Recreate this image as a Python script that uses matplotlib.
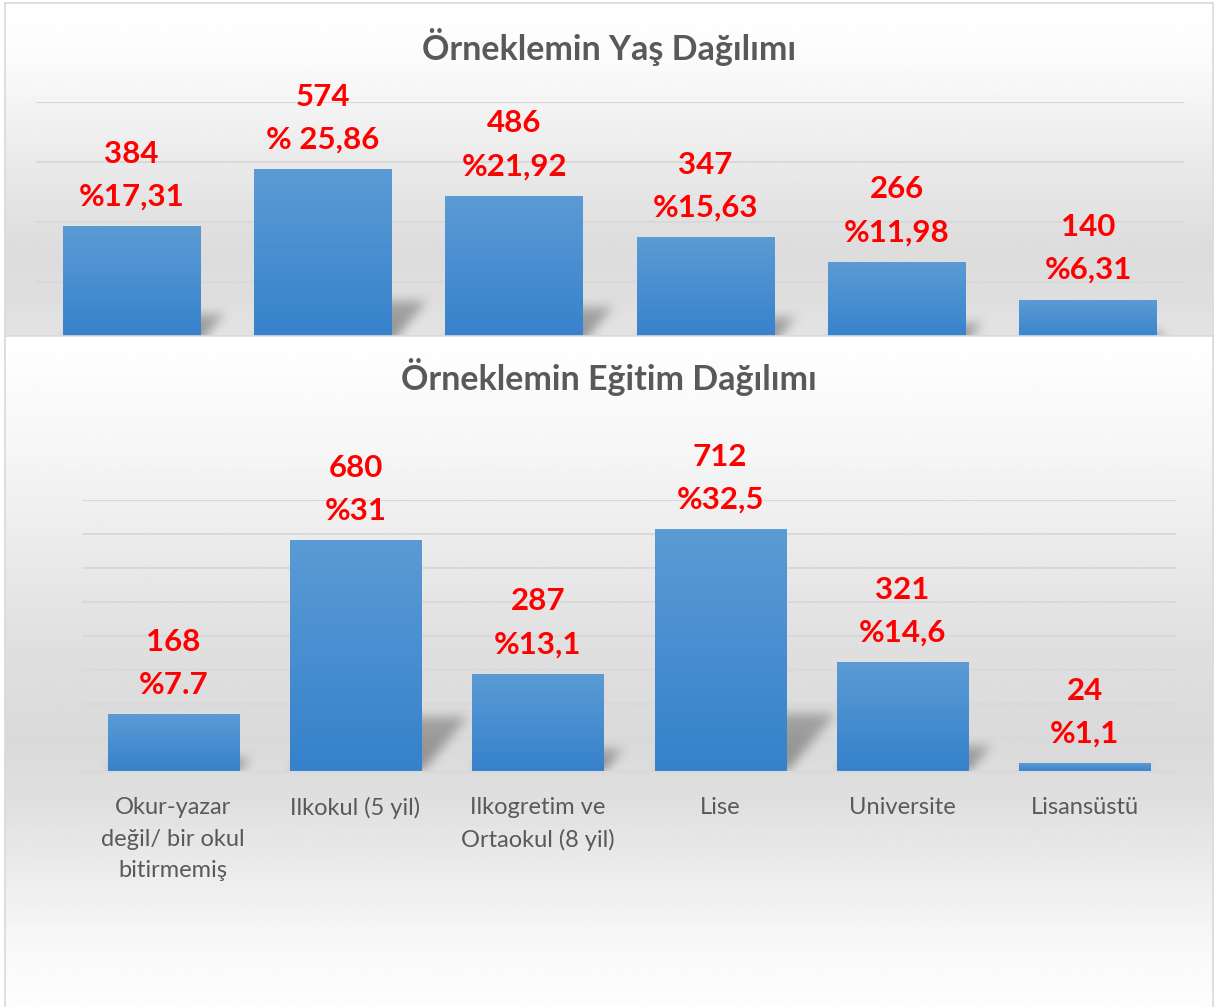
import numpy as np
import matplotlib
matplotlib.use("Agg")
import matplotlib.pyplot as plt

# data
age_counts = [384, 574, 486, 347, 266, 140]
age_pct = ['%17,31', '% 25,86', '%21,92', '%15,63', '%11,98', '%6,31']

edu_labels = ['Okur-yazar\ndeğil/ bir okul\nbitirmemiş', 'Ilkokul (5 yil)',
              'Ilkogretim ve\nOrtaokul (8 yil)', 'Lise', 'Universite', 'Lisansüstü']
edu_counts = [168, 680, 287, 712, 321, 24]
edu_pct = ['%7.7', '%31', '%13,1', '%32,5', '%14,6', '%1,1']

title_age = 'Örneklemin Yaş Dağılımı'
title_edu = 'Örneklemin Eğitim Dağılımı'

W, H = 1215, 1007
plt.rcParams['font.family'] = ['Lato', 'DejaVu Sans']
fig = plt.figure(figsize=(W / 100, H / 100), dpi=100)

GRID = '#d9d9d9'
TXT = '#595959'
RED = '#ff0000'


def frac(x0, y0, x1, y1):
    return [x0 / W, 1 - y1 / H, (x1 - x0) / W, (y1 - y0) / H]


def panel(box, stops, z):
    ax = fig.add_axes(frac(*box))
    ax.set_zorder(z)
    t = np.linspace(0, 1, 300)
    pos = [(p - box[1]) / (box[3] - box[1]) for p, _ in stops]
    g = np.interp(t, pos, [v for _, v in stops])
    ax.imshow(np.repeat(g[:, None], 2, axis=1), cmap='gray', vmin=0, vmax=1,
              aspect='auto', extent=(0, 1, 0, 1), interpolation='bilinear')
    ax.set_xlim(0, 1)
    ax.set_ylim(0, 1)
    ax.set_xticks([])
    ax.set_yticks([])
    for s in ax.spines.values():
        s.set_color(GRID)
        s.set_linewidth(1.2)
    return ax


def blur(a, k):
    ker = np.ones(k) / k
    a = np.apply_along_axis(lambda r: np.convolve(r, ker, mode='same'), 1, a)
    a = np.apply_along_axis(lambda c: np.convolve(c, ker, mode='same'), 0, a)
    return a


def shadows(ax, x, vals, w, ymax, wpx, hpx):
    ppx = wpx / len(x)
    ppy = hpx / ymax
    x0, x1, y1 = -0.5, len(x) - 0.2, ymax * 0.4
    nx, ny = int((x1 - x0) * ppx), int(y1 * ppy)
    X, Y = np.meshgrid(x0 + (np.arange(nx) + 0.5) / ppx, (np.arange(ny) + 0.5) / ppy)
    m = np.zeros_like(X)
    for xi, v in zip(x, vals):
        h = 0.24 * v
        shift = 0.85 * Y * ppy / ppx
        inside = (Y <= h) & (X >= xi - w / 2 + shift) & (X <= xi + w / 2 + shift)
        m[inside] = np.maximum(m[inside], 1.0 - 0.3 * Y[inside] / max(h, 1))
    m = blur(blur(m, 13), 11)
    rgba = np.zeros((ny, nx, 4))
    rgba[..., :3] = 0.45
    rgba[..., 3] = m * 0.75
    ax.imshow(rgba, extent=(x0, x1, 0, y1), origin='lower', aspect='auto',
              zorder=1.5, interpolation='bilinear', clip_on=False)


def chart(ax, counts, pcts, ymax, step, wpx, hpx):
    x = np.arange(len(counts))
    w = 0.72
    ax.set_facecolor('none')
    shadows(ax, x, counts, w, ymax, wpx, hpx)
    bars = ax.bar(x, counts, w, color='#4a8fd1', zorder=2)
    grad = np.linspace(0, 1, 100)[:, None]
    top = np.array([91, 155, 213]) / 255
    bot = np.array([53, 129, 203]) / 255
    img = (top * (1 - grad) + bot * grad)[:, None, :].repeat(2, axis=1)
    for b in bars:
        ax.imshow(img, extent=(b.get_x(), b.get_x() + b.get_width(), 0, b.get_height()),
                  aspect='auto', zorder=2.5, interpolation='bilinear')
    for xi, v, p in zip(x, counts, pcts):
        ax.annotate(str(v), (xi, v), xytext=(0, 64), textcoords='offset pixels',
                    ha='center', va='baseline', color=RED, fontsize=22.5,
                    fontweight='bold', zorder=5)
        ax.annotate(p, (xi, v), xytext=(0, 21), textcoords='offset pixels',
                    ha='center', va='baseline', color=RED, fontsize=22.5,
                    fontweight='bold', zorder=5)
    ax.set_xlim(-0.5, len(counts) - 0.5)
    ax.set_ylim(0, ymax)
    ax.set_yticks(np.arange(0, ymax + 1, step))
    ax.set_yticklabels([])
    ax.tick_params(axis='y', length=0)
    ax.yaxis.grid(True, color=GRID, lw=1.5)
    ax.set_axisbelow(True)
    for s in ['top', 'left', 'right']:
        ax.spines[s].set_visible(False)
    ax.spines['bottom'].set_color(GRID)
    ax.spines['bottom'].set_linewidth(1.5)
    return x


# top chart (age)
bg1 = panel((5, 3, 1213, 360),
            [(3, 1.0), (60, 0.985), (150, 0.925), (250, 0.865), (300, 0.87), (360, 0.91)], 0)
bg1.text(0.5, 1 - 57 / 357, title_age, transform=bg1.transAxes, ha='center',
         va='baseline', fontsize=24.5, fontweight='bold', color=TXT)

ax1 = fig.add_axes(frac(36, 102, 1184, 342))
ax1.set_zorder(1)
x1 = chart(ax1, age_counts, age_pct, 800, 200, 1148, 240)
ax1.set_xticks(x1)
ax1.set_xticklabels([])
ax1.tick_params(axis='x', length=0)

# bottom chart (education)
bg2 = panel((5, 336, 1213, 1012),
            [(336, 1.0), (350, 0.995), (450, 0.965), (550, 0.92), (650, 0.875), (740, 0.855),
             (800, 0.875), (880, 0.93), (950, 0.975), (1012, 0.995)], 2)
bg2.text(0.5, 1 - (390 - 336) / 676, title_edu, transform=bg2.transAxes, ha='center',
         va='baseline', fontsize=24.5, fontweight='bold', color=TXT)

ax2 = fig.add_axes(frac(82, 500, 1176, 772))
ax2.set_zorder(3)
x2 = chart(ax2, edu_counts, edu_pct, 800, 100, 1094, 272)
ax2.set_xticks(x2)
ax2.set_xticklabels(edu_labels, fontsize=17, color=TXT, linespacing=1.63)
ax2.tick_params(axis='x', length=0, pad=18)

fig.savefig('out.png', dpi=100)
